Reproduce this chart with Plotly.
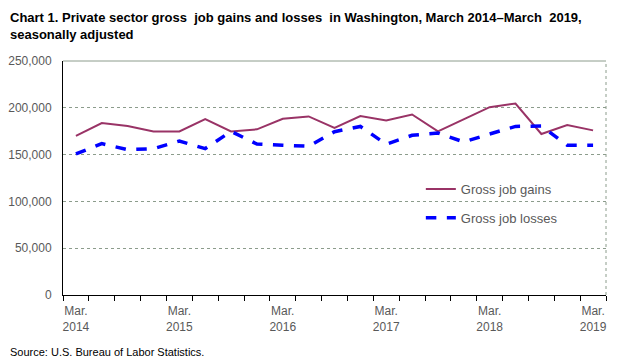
import plotly.graph_objects as go

quarters = [f"Mar. {y}" if q == 0 else f"{y}Q{q+1}" for y in range(2014, 2019) for q in range(4)] + ["Mar. 2019"]
gains = [170000, 183700, 180500, 174800, 174800, 187900, 174800, 177000, 188300, 190800,
         178400, 191100, 186500, 192900, 174800, 187500, 200700, 204600, 172000, 181600, 175900]
losses = [150700, 161700, 155300, 156400, 164500, 156400, 174800, 161300, 160000, 158900,
          174500, 180100, 161000, 170600, 173000, 163500, 172000, 180100, 180500, 160000, 160000]
tick_idx = [0, 4, 8, 12, 16, 20]
tick_text = ["Mar.<br>2014", "Mar.<br>2015", "Mar.<br>2016", "Mar.<br>2017", "Mar.<br>2018", "Mar.<br>2019"]
y_ticks = [0, 50000, 100000, 150000, 200000, 250000]

x = list(range(len(quarters)))
gray = "#595959"
grid = "#8c9c8c"

fig = go.Figure()
fig.add_trace(go.Scatter(x=x, y=gains, mode="lines", name="Gross job gains", legendgroup="g",
                         line=dict(color="#993366", width=2), customdata=quarters))
fig.add_trace(go.Scatter(x=x, y=losses, mode="lines", name="Gross job losses", legendgroup="l",
                         line=dict(color="#0000FF", width=3.5, dash="dash"), customdata=quarters))

title_text = ("Chart 1. Private sector gross  job gains and losses  in Washington, March 2014\u2013March  2019,"
              "<br>seasonally adjusted")

fig.update_layout(
    width=614, height=356,
    margin=dict(l=55, r=16, t=53, b=69, autoexpand=False),
    paper_bgcolor="white", plot_bgcolor="white",
    font=dict(family="Arial, Liberation Sans, sans-serif", size=12, color=gray),
    showlegend=True,
    legend=dict(x=0.659, y=0.517, xanchor="left", yanchor="top", bgcolor="rgba(0,0,0,0)",
                font=dict(size=13, color=gray), tracegroupgap=9, itemwidth=30),
    xaxis=dict(range=[-0.5, len(quarters) - 0.5], tickmode="array", tickvals=tick_idx, ticktext=tick_text,
               ticks="", showgrid=False, showline=True, linecolor="black", linewidth=1,
               zeroline=False, automargin=False, ticklabelstandoff=5, tickfont=dict(size=12, color=gray),
               minor=dict(tickmode="linear", tick0=-0.5, dtick=1, ticks="outside", ticklen=5,
                          tickcolor="black", tickwidth=1, showgrid=False)),
    yaxis=dict(range=[0, 250000], tickmode="array", tickvals=y_ticks, tickformat=",",
               showgrid=True, gridcolor=grid, griddash="dot", gridwidth=1,
               showline=True, linecolor="black", linewidth=1, zeroline=False, automargin=False,
               ticks="", ticklabelstandoff=8, tickfont=dict(size=12, color=gray)),
    annotations=[
        dict(text=title_text, xref="paper", yref="paper", x=-0.1013, y=1 + 53 / 234,
             xanchor="left", yanchor="top", align="left", showarrow=False,
             font=dict(family="Arial, Liberation Sans, sans-serif", size=13, color="black", weight="bold")),
        dict(text="Source: U.S. Bureau of Labor Statistics.", xref="paper", yref="paper",
             x=-0.101, y=-(344 - 287) / 234, xanchor="left", yanchor="middle", showarrow=False,
             font=dict(size=11, color="black"))],
    shapes=[dict(type="line", xref="paper", yref="paper", x0=0, x1=1, y0=1, y1=1,
                 line=dict(color=grid, width=1)),
            dict(type="line", xref="paper", yref="paper", x0=1, x1=1, y0=0, y1=1,
                 line=dict(color=grid, width=1, dash="dot"))],
)
fig.write_html("out.html")
